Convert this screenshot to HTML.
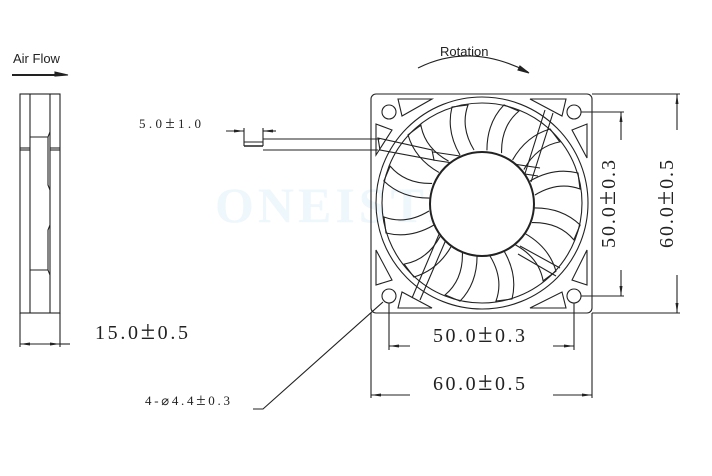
<!DOCTYPE html>
<html><head><meta charset="utf-8"><style>
body{margin:0;background:#fff;width:712px;height:476px;overflow:hidden}
svg{display:block}
text{fill:#222}
</style></head><body>
<svg width="712" height="476" viewBox="0 0 712 476" xmlns="http://www.w3.org/2000/svg">
<defs>
<marker id="a" viewBox="0 0 10 6" refX="10" refY="3" markerWidth="10" markerHeight="6" orient="auto-start-reverse" markerUnits="userSpaceOnUse"><path d="M0,1.5 L10,3 L0,4.5Z" fill="#222"/></marker>
</defs>
<text x="215" y="222" font-family="Liberation Serif,serif" font-weight="bold" font-size="50" style="fill:#eef7fb" letter-spacing="4">ONEISTR</text>
<g stroke="#222" fill="none" stroke-width="1.1">
<line x1="12" y1="75" x2="60" y2="75" stroke-width="2"/>
<path d="M55,72 L68,75 L55,76Z" fill="#222"/>
<rect x="20" y="94" width="40" height="219"/>
<line x1="30" y1="94" x2="30" y2="313"/>
<line x1="50" y1="94" x2="50" y2="313"/>
<line x1="20" y1="148" x2="30" y2="148"/><line x1="50" y1="148" x2="60" y2="148"/>
<line x1="20" y1="150" x2="30" y2="150"/><line x1="50" y1="150" x2="60" y2="150"/>
<path d="M30,137 L48,137 L50,132 M30,270 L48,270 L50,275 M48,137 L48,185 L50,190 M48,270 L48,230 L50,225"/>
<line x1="20" y1="313" x2="20" y2="347"/><line x1="60" y1="313" x2="60" y2="347"/>
<line x1="20" y1="344" x2="60" y2="344" marker-start="url(#a)" marker-end="url(#a)"/>
<line x1="60" y1="344" x2="70" y2="344"/>
<line x1="244" y1="128" x2="244" y2="146"/><line x1="263" y1="128" x2="263" y2="146"/>
<line x1="226" y1="131" x2="244" y2="131" marker-end="url(#a)"/>
<line x1="276" y1="131" x2="263" y2="131" marker-end="url(#a)"/>
<line x1="244" y1="142" x2="263" y2="142"/><line x1="244" y1="146" x2="263" y2="146" stroke-width="1.6"/>
<line x1="263" y1="139" x2="380" y2="139"/><line x1="263" y1="150" x2="378" y2="150"/>
<path d="M418,68 Q470,42 528,72" /><path d="M520,66 L529,73 L518,70Z" fill="#222"/>
<rect x="371" y="94" width="221" height="219" rx="5"/>
<circle cx="482" cy="203" r="106"/>
<circle cx="482" cy="203" r="100"/>
<circle cx="389" cy="112" r="7"/><circle cx="574" cy="112" r="7"/>
<circle cx="389" cy="296" r="7"/><circle cx="574" cy="296" r="7"/>
<path d="M398,99 L432,99 L402,116 Z M530,99 L566,99 L562,116 Z M587,124 L587,158 L572,130Z M587,250 L587,285 L572,280Z M566,308 L530,308 L562,292Z M398,308 L432,308 L402,292Z M376,250 L376,285 L392,280Z M376,124 L376,155 L392,130Z"/>
<path d="M378,138 L432,150 L434,160 L380,150 Z"/>
<path d="M433,152 L540,168 M433,160 L538,176"/>
<path d="M545,110 L523,180 M553,113 L531,182"/>
<path d="M520,246 L560,268 M518,254 L556,276"/>
<path d="M440,232 L412,298 M448,235 L420,300"/>
<g transform="translate(482,203)">
<g id="b"><path d="M48,-22 Q72,-36 96,-30 L98,-14 Q76,-22 53,-8"/></g>
<use href="#b" transform="rotate(30)"/><use href="#b" transform="rotate(60)"/><use href="#b" transform="rotate(90)"/>
<use href="#b" transform="rotate(120)"/><use href="#b" transform="rotate(150)"/><use href="#b" transform="rotate(180)"/>
<use href="#b" transform="rotate(210)"/><use href="#b" transform="rotate(240)"/><use href="#b" transform="rotate(270)"/>
<use href="#b" transform="rotate(300)"/><use href="#b" transform="rotate(330)"/>
</g>
<circle cx="482" cy="204" r="52" fill="#fff" stroke-width="2"/>
<line x1="581" y1="112" x2="624" y2="112"/><line x1="581" y1="296" x2="624" y2="296"/>
<line x1="621" y1="140" x2="621" y2="112" marker-end="url(#a)"/>
<line x1="621" y1="270" x2="621" y2="296" marker-end="url(#a)"/>
<line x1="592" y1="94" x2="680" y2="94"/><line x1="592" y1="313" x2="680" y2="313"/>
<line x1="677" y1="130" x2="677" y2="94" marker-end="url(#a)"/>
<line x1="677" y1="275" x2="677" y2="313" marker-end="url(#a)"/>
<line x1="389" y1="303" x2="389" y2="350"/><line x1="574" y1="303" x2="574" y2="350"/>
<line x1="410" y1="346" x2="389" y2="346" marker-end="url(#a)"/>
<line x1="553" y1="346" x2="574" y2="346" marker-end="url(#a)"/>
<line x1="371" y1="313" x2="371" y2="398"/><line x1="592" y1="313" x2="592" y2="398"/>
<line x1="410" y1="395" x2="371" y2="395" marker-end="url(#a)"/>
<line x1="553" y1="395" x2="592" y2="395" marker-end="url(#a)"/>
<path d="M383,302 L263,409 L253,409"/>
</g>
<g font-family="Liberation Serif,'DejaVu Serif',serif">
<text x="13" y="63" font-family="Liberation Sans,sans-serif" font-size="13">Air Flow</text>
<text x="440" y="56" font-family="Liberation Sans,sans-serif" font-size="13">Rotation</text>
<text x="139" y="128" font-size="13" textLength="62" lengthAdjust="spacing">5.0<tspan font-size="17">±</tspan>1.0</text>
<text x="95" y="339" font-size="20" textLength="93" lengthAdjust="spacing">15.0<tspan font-size="26">±</tspan>0.5</text>
<text x="433" y="342" font-size="20" textLength="92" lengthAdjust="spacing">50.0<tspan font-size="26">±</tspan>0.3</text>
<text x="433" y="390" font-size="20" textLength="92" lengthAdjust="spacing">60.0<tspan font-size="26">±</tspan>0.5</text>
<text x="145" y="405" font-size="13" textLength="85" lengthAdjust="spacing">4-⌀4.4<tspan font-size="17">±</tspan>0.3</text>
<text transform="translate(615,248) rotate(-90)" font-size="20" textLength="88" lengthAdjust="spacing">50.0<tspan font-size="26">±</tspan>0.3</text>
<text transform="translate(673,248) rotate(-90)" font-size="20" textLength="88" lengthAdjust="spacing">60.0<tspan font-size="26">±</tspan>0.5</text>
</g>
</svg>
</body></html>
